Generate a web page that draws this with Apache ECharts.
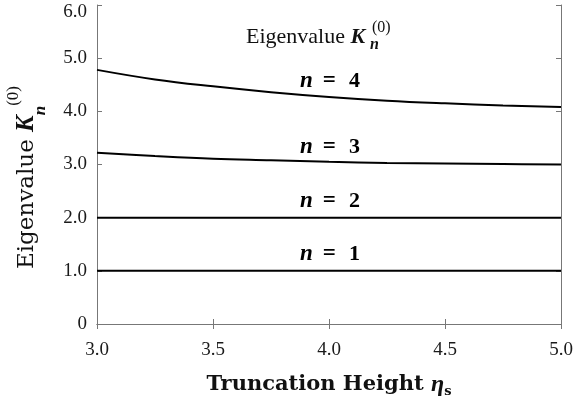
<!DOCTYPE html>
<html lang="en">
<head>
	<meta charset="UTF-8">
	<title>Eigenvalue vs truncation height</title>
	<style type="text/css">
		html, body { margin: 0; padding: 0; background: #fff; }
		#main { width: 578px; height: 403px; }
	</style>
</head>
<body>
	<div id="main"></div>
	<script type="text/javascript" src="https://cdn.jsdelivr.net/npm/echarts@6/dist/echarts.min.js"></script>
	<script type="text/javascript">
		// truncation height eta_s
		var etaS = [3.0, 3.25, 3.5, 3.75, 4.0, 4.25, 4.5, 4.75, 5.0];
		// eigenvalues K_n^(0)
		var kN1 = [1.00, 1.00, 1.00, 1.00, 1.00, 1.00, 1.00, 1.00, 1.00];
		var kN2 = [2.00, 2.00, 2.00, 2.00, 2.00, 2.00, 2.00, 2.00, 2.00];
		var kN3 = [3.22, 3.16, 3.11, 3.08, 3.05, 3.03, 3.02, 3.01, 3.00];
		var kN4 = [4.78, 4.60, 4.47, 4.36, 4.27, 4.20, 4.15, 4.11, 4.08];
		var curveNames = ['n = 1', 'n = 2', 'n = 3', 'n = 4'];
		var xTicks = [3.0, 3.5, 4.0, 4.5, 5.0];
		var yTicks = [0, 1, 2, 3, 4, 5, 6];

		var SERIF = 'Liberation Serif';
		var WIDE_SERIF = 'DejaVu Serif';
		var AXIS_COLOR = '#777';
		var TEXT_COLOR = '#1a1a1a';

		function pairs(ys) {
			var out = [];
			for (var i = 0; i < etaS.length; i++) {
				out.push([etaS[i], ys[i]]);
			}
			return out;
		}

		function curve(name, ys) {
			return {
				name: name,
				type: 'line',
				smooth: 0.4,
				symbol: 'none',
				lineStyle: { color: '#000', width: 2 },
				data: pairs(ys)
			};
		}

		// "n = k" label placed inside the plot
		function nLabel(k, cy) {
			return {
				type: 'text',
				left: 300,
				top: cy - 10,
				style: {
					text: '{n|n}{eq|=}{d|' + k + '}',
					rich: {
						n: { fontFamily: SERIF, fontSize: 23, fontWeight: 'bold', fontStyle: 'italic', fill: '#000' },
						eq: { fontFamily: SERIF, fontSize: 23, fontWeight: 'bold', fill: '#000', padding: [0, 13, 0, 10] },
						d: { fontFamily: SERIF, fontSize: 22, fontWeight: 'bold', fill: '#000' }
					}
				}
			};
		}

		function mirrorAxis(pos, min, max, step) {
			return {
				type: 'value',
				position: pos,
				min: min,
				max: max,
				interval: step,
				axisLine: { lineStyle: { color: AXIS_COLOR, width: 1 } },
				axisTick: { inside: true, length: 5, lineStyle: { color: AXIS_COLOR } },
				axisLabel: { show: false },
				splitLine: { show: false }
			};
		}

		var chart = echarts.init(document.getElementById('main'), null, { renderer: 'canvas' });

		var option = {
			animation: false,
			backgroundColor: '#fff',
			grid: { left: 97, right: 17, top: 5, bottom: 79, outerBoundsMode: 'none', containLabel: false },
			xAxis: [
				{
					type: 'value',
					min: xTicks[0],
					max: xTicks[xTicks.length - 1],
					interval: 0.5,
					name: '{t|Truncation Height }{e|η}{s|s}',
					nameLocation: 'middle',
					nameGap: 48,
					nameTextStyle: {
						rich: {
							t: { fontFamily: WIDE_SERIF, fontSize: 21, fontWeight: 'bold', color: '#111', lineHeight: 26 },
							e: { fontFamily: SERIF, fontSize: 24, fontWeight: 'bold', fontStyle: 'italic', color: '#111', lineHeight: 26 },
							s: { fontFamily: WIDE_SERIF, fontSize: 13, fontWeight: 'bold', color: '#111', verticalAlign: 'bottom', lineHeight: 14 }
						}
					},
					axisLine: { lineStyle: { color: AXIS_COLOR, width: 1 } },
					axisTick: { inside: true, length: 5, lineStyle: { color: AXIS_COLOR } },
					axisLabel: {
						margin: 17,
						fontFamily: SERIF,
						fontSize: 19,
						color: TEXT_COLOR,
						formatter: function (v) { return v.toFixed(1); }
					},
					splitLine: { show: false }
				},
				mirrorAxis('top', xTicks[0], xTicks[xTicks.length - 1], 0.5)
			],
			yAxis: [
				{
					type: 'value',
					min: yTicks[0],
					max: yTicks[yTicks.length - 1],
					interval: 1,
					name: '{t|Eigenvalue }{k|K}{n|n}{p|(0)}',
					nameLocation: 'middle',
					nameGap: 48,
					nameRotate: 90,
					nameTextStyle: {
						padding: [0, 26, 0, 0],
						rich: {
							t: { fontFamily: WIDE_SERIF, fontSize: 23, color: '#111', lineHeight: 44 },
							k: { fontFamily: SERIF, fontSize: 25, fontWeight: 'bold', fontStyle: 'italic', color: '#111', lineHeight: 44 },
							n: { fontFamily: SERIF, fontSize: 17, fontWeight: 'bold', fontStyle: 'italic', color: '#111', verticalAlign: 'bottom', lineHeight: 20 },
							p: { fontFamily: SERIF, fontSize: 17, color: '#111', verticalAlign: 'top', lineHeight: 36 }
						}
					},
					axisLine: { lineStyle: { color: AXIS_COLOR, width: 1 } },
					axisTick: { inside: true, length: 5, lineStyle: { color: AXIS_COLOR } },
					axisLabel: {
						margin: 10,
						fontFamily: SERIF,
						fontSize: 19,
						color: TEXT_COLOR,
						formatter: function (v) {
							if (v === 0) return '0';
							// top label sits a little below its tick in the original
							if (v === yTicks[yTicks.length - 1]) return '{low|' + v.toFixed(1) + '}';
							return v.toFixed(1);
						},
						rich: {
							low: { fontFamily: SERIF, fontSize: 19, color: TEXT_COLOR, padding: [14, 0, 0, 0] }
						}
					},
					splitLine: { show: false }
				},
				mirrorAxis('right', yTicks[0], yTicks[yTicks.length - 1], 1)
			],
			graphic: [
				// in-plot title: Eigenvalue K_n^(0)
				{
					type: 'text',
					left: 246,
					top: 26,
					style: {
						text: '{t|Eigenvalue }{k|K}',
						rich: {
							t: { fontFamily: SERIF, fontSize: 22, fill: '#111' },
							k: { fontFamily: SERIF, fontSize: 22, fontWeight: 'bold', fontStyle: 'italic', fill: '#111' }
						}
					}
				},
				{
					type: 'text',
					left: 370,
					top: 37,
					style: { text: 'n', fontFamily: SERIF, fontSize: 16, fontWeight: 'bold', fontStyle: 'italic', fill: '#111' }
				},
				{
					type: 'text',
					left: 372,
					top: 20,
					style: { text: '(0)', fontFamily: SERIF, fontSize: 16, fill: '#111' }
				},
				nLabel(4, 80),
				nLabel(3, 146),
				nLabel(2, 200),
				nLabel(1, 253)
			],
			series: [
				curve(curveNames[0], kN1),
				curve(curveNames[1], kN2),
				curve(curveNames[2], kN3),
				curve(curveNames[3], kN4)
			]
		};

		chart.setOption(option);
	</script>
</body>
</html>
